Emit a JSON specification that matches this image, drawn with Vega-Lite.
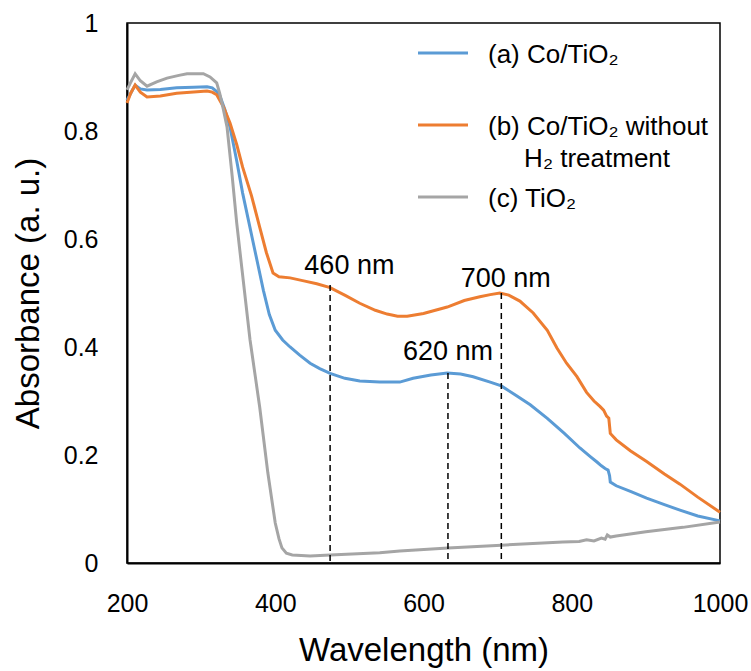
{
  "$schema": "https://vega.github.io/schema/vega-lite/v6.json",
  "width": 593,
  "height": 540,
  "autosize": {"type": "none"},
  "padding": {"left": 127, "top": 23, "right": 31, "bottom": 108},
  "background": "white",
  "config": {
    "font": "Liberation Sans",
    "view": {"stroke": "black", "strokeWidth": 1.5},
    "style": {"guide-label": {"lineHeight": 32}}
  },
  "datasets": {
    "spectra": [
      {"s":"a","w":200,"a":0.857},{"s":"a","w":205,"a":0.87},{"s":"a","w":211,"a":0.885},{"s":"a","w":218,"a":0.878},{"s":"a","w":227,"a":0.876},{"s":"a","w":245,"a":0.877},{"s":"a","w":267,"a":0.88},{"s":"a","w":290,"a":0.881},{"s":"a","w":308,"a":0.882},{"s":"a","w":315,"a":0.88},{"s":"a","w":321,"a":0.873},{"s":"a","w":325,"a":0.866},{"s":"a","w":332,"a":0.84},{"s":"a","w":339,"a":0.807},{"s":"a","w":348,"a":0.745},{"s":"a","w":356,"a":0.685},{"s":"a","w":363,"a":0.64},{"s":"a","w":370,"a":0.595},{"s":"a","w":377,"a":0.55},{"s":"a","w":384,"a":0.505},{"s":"a","w":392,"a":0.46},{"s":"a","w":400,"a":0.431},{"s":"a","w":410,"a":0.413},{"s":"a","w":420,"a":0.4},{"s":"a","w":433,"a":0.385},{"s":"a","w":447,"a":0.37},{"s":"a","w":460,"a":0.36},{"s":"a","w":474,"a":0.351},{"s":"a","w":494,"a":0.342},{"s":"a","w":514,"a":0.337},{"s":"a","w":541,"a":0.335},{"s":"a","w":568,"a":0.335},{"s":"a","w":586,"a":0.342},{"s":"a","w":610,"a":0.348},{"s":"a","w":632,"a":0.352},{"s":"a","w":650,"a":0.35},{"s":"a","w":667,"a":0.345},{"s":"a","w":690,"a":0.335},{"s":"a","w":705,"a":0.328},{"s":"a","w":725,"a":0.31},{"s":"a","w":744,"a":0.293},{"s":"a","w":767,"a":0.268},{"s":"a","w":790,"a":0.24},{"s":"a","w":811,"a":0.213},{"s":"a","w":825,"a":0.197},{"s":"a","w":834,"a":0.187},{"s":"a","w":840,"a":0.18},{"s":"a","w":845,"a":0.175},{"s":"a","w":849,"a":0.172},{"s":"a","w":851,"a":0.162},{"s":"a","w":852,"a":0.15},{"s":"a","w":860,"a":0.143},{"s":"a","w":880,"a":0.132},{"s":"a","w":901,"a":0.12},{"s":"a","w":925,"a":0.108},{"s":"a","w":946,"a":0.098},{"s":"a","w":970,"a":0.087},{"s":"a","w":1000,"a":0.078},
      {"s":"b","w":200,"a":0.852},{"s":"b","w":205,"a":0.87},{"s":"b","w":211,"a":0.885},{"s":"b","w":218,"a":0.872},{"s":"b","w":227,"a":0.863},{"s":"b","w":245,"a":0.865},{"s":"b","w":267,"a":0.87},{"s":"b","w":290,"a":0.872},{"s":"b","w":308,"a":0.874},{"s":"b","w":315,"a":0.872},{"s":"b","w":321,"a":0.867},{"s":"b","w":330,"a":0.845},{"s":"b","w":339,"a":0.815},{"s":"b","w":348,"a":0.775},{"s":"b","w":356,"a":0.733},{"s":"b","w":368,"a":0.68},{"s":"b","w":379,"a":0.622},{"s":"b","w":388,"a":0.575},{"s":"b","w":397,"a":0.537},{"s":"b","w":405,"a":0.53},{"s":"b","w":420,"a":0.528},{"s":"b","w":440,"a":0.522},{"s":"b","w":456,"a":0.517},{"s":"b","w":474,"a":0.51},{"s":"b","w":495,"a":0.495},{"s":"b","w":514,"a":0.481},{"s":"b","w":535,"a":0.468},{"s":"b","w":551,"a":0.461},{"s":"b","w":565,"a":0.457},{"s":"b","w":578,"a":0.457},{"s":"b","w":600,"a":0.462},{"s":"b","w":632,"a":0.474},{"s":"b","w":655,"a":0.486},{"s":"b","w":676,"a":0.493},{"s":"b","w":690,"a":0.497},{"s":"b","w":703,"a":0.5},{"s":"b","w":715,"a":0.496},{"s":"b","w":730,"a":0.485},{"s":"b","w":748,"a":0.463},{"s":"b","w":767,"a":0.431},{"s":"b","w":780,"a":0.398},{"s":"b","w":793,"a":0.37},{"s":"b","w":807,"a":0.345},{"s":"b","w":820,"a":0.316},{"s":"b","w":830,"a":0.3},{"s":"b","w":838,"a":0.29},{"s":"b","w":843,"a":0.283},{"s":"b","w":847,"a":0.272},{"s":"b","w":850,"a":0.268},{"s":"b","w":852,"a":0.24},{"s":"b","w":860,"a":0.228},{"s":"b","w":879,"a":0.208},{"s":"b","w":901,"a":0.188},{"s":"b","w":925,"a":0.165},{"s":"b","w":946,"a":0.146},{"s":"b","w":970,"a":0.122},{"s":"b","w":1000,"a":0.094},
      {"s":"c","w":200,"a":0.876},{"s":"c","w":205,"a":0.89},{"s":"c","w":211,"a":0.906},{"s":"c","w":218,"a":0.893},{"s":"c","w":227,"a":0.883},{"s":"c","w":240,"a":0.891},{"s":"c","w":254,"a":0.898},{"s":"c","w":270,"a":0.903},{"s":"c","w":281,"a":0.906},{"s":"c","w":295,"a":0.906},{"s":"c","w":303,"a":0.906},{"s":"c","w":312,"a":0.9},{"s":"c","w":321,"a":0.889},{"s":"c","w":325,"a":0.87},{"s":"c","w":330,"a":0.84},{"s":"c","w":335,"a":0.807},{"s":"c","w":342,"a":0.715},{"s":"c","w":348,"a":0.63},{"s":"c","w":355,"a":0.545},{"s":"c","w":366,"a":0.413},{"s":"c","w":379,"a":0.289},{"s":"c","w":390,"a":0.167},{"s":"c","w":400,"a":0.074},{"s":"c","w":405,"a":0.045},{"s":"c","w":409,"a":0.028},{"s":"c","w":415,"a":0.018},{"s":"c","w":423,"a":0.015},{"s":"c","w":447,"a":0.013},{"s":"c","w":474,"a":0.015},{"s":"c","w":541,"a":0.019},{"s":"c","w":568,"a":0.022},{"s":"c","w":633,"a":0.028},{"s":"c","w":705,"a":0.033},{"s":"c","w":788,"a":0.039},{"s":"c","w":810,"a":0.04},{"s":"c","w":820,"a":0.043},{"s":"c","w":830,"a":0.041},{"s":"c","w":840,"a":0.046},{"s":"c","w":845,"a":0.044},{"s":"c","w":848,"a":0.052},{"s":"c","w":852,"a":0.048},{"s":"c","w":860,"a":0.05},{"s":"c","w":900,"a":0.058},{"s":"c","w":950,"a":0.066},{"s":"c","w":1000,"a":0.076}
    ],
    "peaks": [
      {"pos": 474, "top": 0.515},
      {"pos": 633, "top": 0.352},
      {"pos": 705, "top": 0.5}
    ],
    "notes": [
      {"x": 500, "y": 0.535, "label": "460 nm"},
      {"x": 711, "y": 0.511, "label": "700 nm"},
      {"x": 633, "y": 0.376, "label": "620 nm"}
    ]
  },
  "layer": [
    {
      "data": {"name": "spectra"},
      "mark": {"type": "line", "strokeWidth": 3},
      "encoding": {
        "x": {
          "field": "w", "type": "quantitative",
          "scale": {"domain": [200, 1000], "nice": false, "zero": false},
          "axis": {
            "title": "Wavelength (nm)", "values": [200, 400, 600, 800, 1000], "format": "d",
            "grid": false, "ticks": false, "tickSize": 0,
            "labelPadding": 28, "labelFontSize": 25, "labelColor": "black", "labelFlush": false,
            "titleFontSize": 33, "titleFontWeight": "normal", "titleColor": "black", "titlePadding": 18,
            "domainColor": "black", "domainWidth": 2
          }
        },
        "y": {
          "field": "a", "type": "quantitative",
          "scale": {"domain": [0, 1], "nice": false},
          "axis": {
            "title": "Absorbance (a. u.)", "values": [0, 0.2, 0.4, 0.6, 0.8, 1], "format": "~g",
            "grid": false, "ticks": false, "tickSize": 0,
            "labelPadding": 29, "labelFontSize": 25, "labelColor": "black", "labelFlush": false,
            "titleFontSize": 33, "titleFontWeight": "normal", "titleColor": "black", "titlePadding": 18,
            "domainColor": "black", "domainWidth": 2
          }
        },
        "color": {
          "field": "s", "type": "nominal",
          "scale": {"domain": ["a", "b", "c"], "range": ["#5B9BD5", "#ED7D31", "#A5A5A5"]},
          "legend": {
            "title": null, "orient": "none", "legendX": 302, "legendY": 5,
            "symbolType": "M-2,0.88L2,0.88", "symbolSize": 625, "symbolStrokeWidth": 3,
            "labelFontSize": 26, "labelBaseline": "top", "labelOffset": 31, "labelColor": "black",
            "labelLimit": 400, "gridAlign": "all", "rowPadding": -4, "padding": 0,
            "labelExpr": "datum.value == 'a' ? '(a) Co/TiO₂' : datum.value == 'b' ? ['(b) Co/TiO₂ without', '\u200b\u00a0\u00a0\u00a0\u00a0\u00a0H₂ treatment'] : '(c) TiO₂'"
          }
        }
      }
    },
    {
      "data": {"name": "peaks"},
      "mark": {"type": "rule", "color": "black", "strokeWidth": 1.5, "strokeDash": [6, 4]},
      "encoding": {
        "x": {"field": "pos", "type": "quantitative"},
        "y": {"field": "top", "type": "quantitative"},
        "y2": {"datum": 0}
      }
    },
    {
      "data": {"name": "notes"},
      "mark": {"type": "text", "fontSize": 27, "align": "center", "baseline": "alphabetic", "color": "black"},
      "encoding": {
        "x": {"field": "x", "type": "quantitative"},
        "y": {"field": "y", "type": "quantitative"},
        "text": {"field": "label"}
      }
    }
  ]
}
